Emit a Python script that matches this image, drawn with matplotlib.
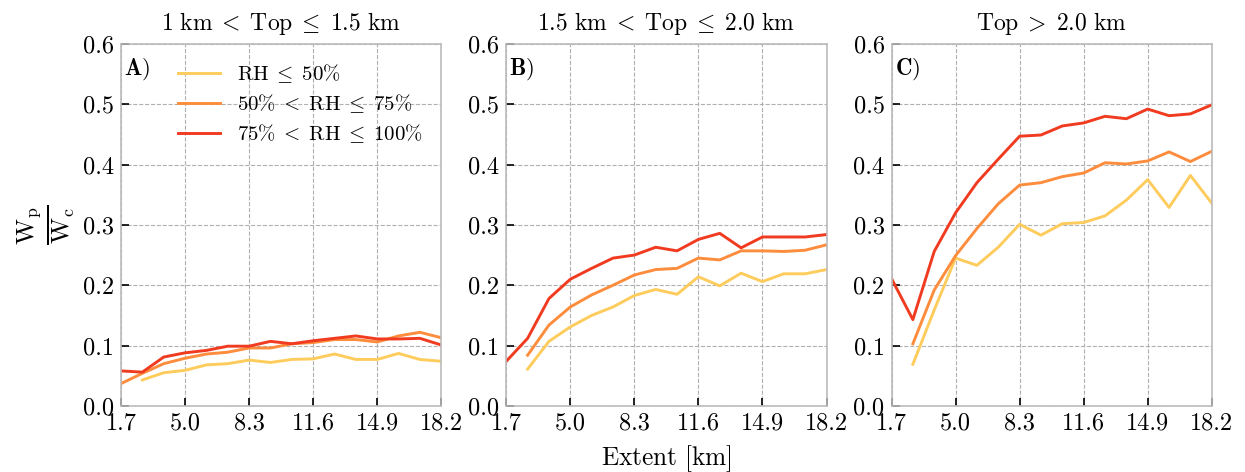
import numpy as np
import matplotlib
matplotlib.use("Agg")
import matplotlib.pyplot as plt

plt.rcParams['font.family'] = 'serif'
plt.rcParams['font.serif'] = ['cmr10', 'DejaVu Serif']
plt.rcParams['mathtext.fontset'] = 'cm'
plt.rcParams['axes.formatter.use_mathtext'] = True

# extent bins (km)
extent = [1.7, 2.8, 3.9, 5.0, 6.1, 7.2, 8.3, 9.4, 10.5, 11.6, 12.7, 13.8, 14.9, 16.0, 17.1, 18.2]
xtick_labels = ['1.7', '5.0', '8.3', '11.6', '14.9', '18.2']

titles = [r'$1\ \mathrm{km}\;<\;\mathrm{Top}\;\leq\;1.5\ \mathrm{km}$',
          r'$1.5\ \mathrm{km}\;<\;\mathrm{Top}\;\leq\;2.0\ \mathrm{km}$',
          r'$\mathrm{Top}\;>\;2.0\ \mathrm{km}$']
panel_labels = [r'$\mathbf{A})$', r'$\mathbf{B})$', r'$\mathbf{C})$']
rh_labels = [r'$\mathrm{RH}\;\leq\;50\%$',
             r'$50\%\;<\;\mathrm{RH}\;\leq\;75\%$',
             r'$75\%\;<\;\mathrm{RH}\;\leq\;100\%$']
colors = ['#fecc5c', '#fd8d3c', '#f03b20']

nan = np.nan
# panel A
a_low = [nan, 0.043, 0.055, 0.059, 0.068, 0.070, 0.076, 0.072, 0.077, 0.078, 0.086, 0.077, 0.077, 0.087, 0.077, 0.074]
a_mid = [0.037, 0.054, 0.070, 0.079, 0.086, 0.089, 0.096, 0.096, 0.103, 0.105, 0.110, 0.110, 0.106, 0.116, 0.122, 0.113]
a_high = [0.058, 0.056, 0.081, 0.088, 0.092, 0.099, 0.099, 0.107, 0.103, 0.108, 0.112, 0.116, 0.111, 0.111, 0.112, 0.101]
# panel B
b_low = [nan, 0.061, 0.107, 0.131, 0.150, 0.164, 0.183, 0.193, 0.185, 0.214, 0.199, 0.220, 0.206, 0.219, 0.219, 0.226]
b_mid = [nan, 0.084, 0.134, 0.164, 0.184, 0.200, 0.217, 0.226, 0.228, 0.245, 0.242, 0.257, 0.257, 0.256, 0.258, 0.267]
b_high = [0.074, 0.112, 0.178, 0.210, 0.228, 0.245, 0.250, 0.263, 0.257, 0.276, 0.286, 0.262, 0.280, 0.280, 0.280, 0.284]
# panel C
c_low = [nan, 0.069, 0.159, 0.245, 0.233, 0.263, 0.301, 0.283, 0.302, 0.304, 0.315, 0.341, 0.375, 0.329, 0.382, 0.336]
c_mid = [nan, 0.103, 0.192, 0.249, 0.294, 0.335, 0.366, 0.370, 0.380, 0.386, 0.403, 0.401, 0.406, 0.421, 0.405, 0.422]
c_high = [0.211, 0.143, 0.256, 0.320, 0.370, 0.409, 0.447, 0.449, 0.464, 0.469, 0.480, 0.476, 0.492, 0.481, 0.484, 0.499]

panels = [(a_low, a_mid, a_high), (b_low, b_mid, b_high), (c_low, c_mid, c_high)]

fig, axes = plt.subplots(1, 3, figsize=(12.45, 4.72), dpi=100)
fig.subplots_adjust(left=0.0972, right=0.9733, bottom=0.140, top=0.907, wspace=0.203)

x_ticks = extent[::3]
for k, ax in enumerate(axes):
    for series, c, lab in zip(panels[k], colors, rh_labels):
        ax.plot(extent, series, color=c, lw=2.1, label=lab)
    ax.set_xlim(1.7, 18.2)
    ax.set_ylim(0, 0.6)
    ax.set_xticks(x_ticks)
    ax.set_xticklabels(xtick_labels)
    ax.set_yticks(np.arange(0, 0.61, 0.1))
    ax.set_yticklabels(['%.1f' % v for v in np.arange(0, 0.61, 0.1)])
    ax.tick_params(direction='in', labelsize=17.5, length=6, width=1.2, pad=5)
    ax.grid(True, ls='--', color='#b0b0b0', lw=0.8)
    for s in ax.spines.values():
        s.set_color('#bbbbbb')
        s.set_linewidth(1.2)
    ax.set_title(titles[k], fontsize=17, pad=10)
    ax.text(0.01, 0.965, panel_labels[k], transform=ax.transAxes, fontsize=16.5,
            ha='left', va='top')

axes[0].legend(loc='upper left', bbox_to_anchor=(0.12, 1.0), frameon=False,
               fontsize=15, handlelength=2.0, labelspacing=0.35)
axes[0].set_ylabel(r'$\frac{\mathrm{W}_\mathrm{p}}{\mathrm{W}_\mathrm{c}}$', fontsize=26, labelpad=4)
axes[1].set_xlabel(r'$\mathrm{Extent\ [km]}$', fontsize=18.3, labelpad=6)

fig.savefig('out.png', dpi=100)
